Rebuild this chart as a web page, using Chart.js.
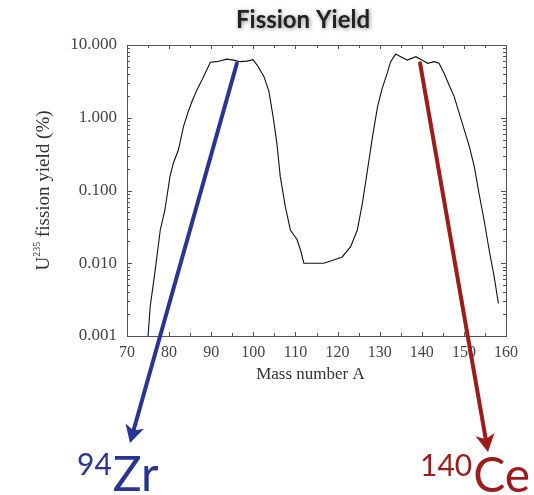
<!DOCTYPE html>
<html>
<head>
<meta charset="utf-8">
<script src="https://cdn.jsdelivr.net/npm/chart.js@4/dist/chart.umd.min.js"></script>
<style>
  html, body { margin: 0; padding: 0; background: #fff; }
  #wrap { width: 534px; height: 495px; }
</style>
</head>
<body>
<div id="wrap"><canvas id="yieldChart" width="534" height="495"></canvas></div>
<script>
// mass number A and U-235 fission yield (%)
const massNumbers = [75, 75.5, 76.7, 77.9, 79.0, 80.2, 81.0, 82.2, 83.4, 84.4, 85.4, 86.6, 87.8, 89.8, 91.3, 93.7, 95.3, 96.9, 98.5, 99.9,
    100.9, 102.5, 103.7, 104.7, 105.6, 106.4, 107.6, 108.8, 110.4, 111.2, 112.0, 116.7, 119.1, 121.1, 123.1, 124.7, 125.9, 127.1, 128.3, 129.5,
    130.6, 131.8, 132.6, 133.8, 135.0, 136.6, 138.6, 139.8, 141.4, 142.9, 144.1, 145.3, 146.5, 147.7, 148.9, 150.1, 151.3, 152.5, 153.6, 154.8,
    156.0, 157.2, 158.2];
const yields = [0.001, 0.0025, 0.0081, 0.0286, 0.054, 0.155, 0.237, 0.36, 0.75, 1.15, 1.66, 2.4, 3.3, 5.8, 5.9, 6.4, 6.2, 5.9, 6.0, 6.3,
    5.3, 3.7, 2.3, 1.03, 0.44, 0.155, 0.06, 0.0286, 0.021, 0.0152, 0.010, 0.010, 0.0111, 0.0122, 0.0169, 0.0286, 0.067, 0.19, 0.55, 1.42,
    2.54, 4.1, 5.9, 7.5, 6.9, 6.2, 6.9, 6.3, 5.6, 5.9, 5.6, 4.1, 2.8, 1.95, 1.15, 0.68, 0.40, 0.21, 0.091, 0.039,
    0.0152, 0.0065, 0.0028];
const yTicks = [0.001, 0.01, 0.1, 1, 10];
const xTickStep = 10;

// highlighted nuclides: where the arrow leaves the curve (A, yield)
const nuclides = [
    { mass: '94', sym: 'Zr', fromA: 96.1, fromY: 5.6, color: '#283593' },
    { mass: '140', sym: 'Ce', fromA: 139.6, fromY: 5.6, color: '#9c1c1c' }
];

const axisColor = '#555';
const serif = '"Liberation Serif", "DejaVu Serif", serif';
const sans = 'Lato, "Open Sans", sans-serif';

function drawArrow(ctx, x1, y1, x2, y2, color) {
    const ang = Math.atan2(y2 - y1, x2 - x1);
    const head = 20, back = 13;
    ctx.save();
    ctx.strokeStyle = color;
    ctx.fillStyle = color;
    ctx.lineWidth = 4;
    ctx.lineCap = 'round';
    ctx.beginPath();
    ctx.moveTo(x1, y1);
    ctx.lineTo(x2 - back * Math.cos(ang), y2 - back * Math.sin(ang));
    ctx.stroke();
    ctx.beginPath();
    ctx.moveTo(x2, y2);
    ctx.lineTo(x2 - head * Math.cos(ang - 0.5), y2 - head * Math.sin(ang - 0.5));
    ctx.lineTo(x2 - back * Math.cos(ang), y2 - back * Math.sin(ang));
    ctx.lineTo(x2 - head * Math.cos(ang + 0.5), y2 - head * Math.sin(ang + 0.5));
    ctx.closePath();
    ctx.fill();
    ctx.restore();
}

const decorPlugin = {
    id: 'decor',
    afterDatasetsDraw(chart) {
        const { ctx, chartArea: a, scales: { x, y } } = chart;
        ctx.save();
        // frame
        ctx.strokeStyle = axisColor;
        ctx.lineWidth = 1;
        ctx.strokeRect(a.left + 0.5, a.top + 0.5, a.right - a.left, a.bottom - a.top);
        // inward ticks, x every 5
        ctx.beginPath();
        for (let v = x.min; v <= x.max; v += 5) {
            const px = Math.round(x.getPixelForValue(v)) + 0.5;
            const len = v % 10 === 0 ? 4 : 3;
            ctx.moveTo(px, a.bottom); ctx.lineTo(px, a.bottom - len);
            ctx.moveTo(px, a.top); ctx.lineTo(px, a.top + len);
        }
        // inward ticks, log y
        for (let d = 0; d < yTicks.length; d++) {
            for (let m = 1; m <= 9; m++) {
                const v = yTicks[d] * m;
                if (v > y.max) break;
                const py = Math.round(y.getPixelForValue(v)) + 0.5;
                const len = m === 1 ? 5 : 3;
                ctx.moveTo(a.left, py); ctx.lineTo(a.left + len, py);
                ctx.moveTo(a.right, py); ctx.lineTo(a.right - len, py);
            }
        }
        ctx.stroke();

        // axis titles
        ctx.fillStyle = '#333';
        ctx.font = '17px ' + serif;
        ctx.textAlign = 'center';
        ctx.textBaseline = 'middle';
        ctx.fillText('Mass number A', (a.left + a.right) / 2 - 6, 375);

        ctx.save();
        ctx.translate(42, (a.top + a.bottom) / 2);
        ctx.rotate(-Math.PI / 2);
        ctx.textAlign = 'left';
        ctx.textBaseline = 'alphabetic';
        const big = '19px ' + serif, small = '10px ' + serif;
        ctx.font = big;
        const wU = ctx.measureText('U').width;
        const rest = ' fission yield (%)';
        const wR = ctx.measureText(rest).width;
        ctx.font = small;
        const wS = ctx.measureText('235').width;
        let cx = -(wU + wS + wR) / 2;
        ctx.font = big; ctx.fillText('U', cx, 7); cx += wU;
        ctx.font = small; ctx.fillText('235', cx, -2); cx += wS;
        ctx.font = big; ctx.fillText(rest, cx, 7);
        ctx.restore();

        // title with soft shadow
        ctx.save();
        ctx.font = 'bold 24px ' + sans;
        ctx.fillStyle = '#222';
        ctx.shadowColor = 'rgba(0,0,0,0.45)';
        ctx.shadowBlur = 4;
        ctx.shadowOffsetX = 1;
        ctx.shadowOffsetY = 1;
        ctx.textAlign = 'center';
        ctx.textBaseline = 'middle';
        ctx.fillText('Fission Yield', 303, 20);
        ctx.restore();

        // arrows and nuclide labels
        const tips = [[130, 443], [488, 452]];
        const labelPos = [[77, 491], [420, 492]];
        nuclides.forEach((n, i) => {
            drawArrow(ctx, x.getPixelForValue(n.fromA), y.getPixelForValue(n.fromY), tips[i][0], tips[i][1], n.color);
            ctx.fillStyle = n.color;
            ctx.textAlign = 'left';
            ctx.textBaseline = 'alphabetic';
            ctx.font = '30px ' + sans;
            const wm = ctx.measureText(n.mass).width;
            ctx.fillText(n.mass, labelPos[i][0], labelPos[i][1] - 16);
            ctx.font = '48px ' + sans;
            ctx.fillText(n.sym, labelPos[i][0] + wm + 1, labelPos[i][1]);
        });
        ctx.restore();
    }
};

new Chart(document.getElementById('yieldChart'), {
    type: 'line',
    data: {
        datasets: [{
            data: massNumbers.map((a, i) => ({ x: a, y: yields[i] })),
            borderColor: '#111',
            borderWidth: 1.1,
            pointRadius: 0,
            tension: 0,
            fill: false
        }]
    },
    options: {
        responsive: false,
        animation: false,
        layout: { padding: { top: 45, right: 28, bottom: 0, left: 0 } },
        plugins: { legend: { display: false }, tooltip: { enabled: false }, title: { display: false } },
        scales: {
            x: {
                type: 'linear',
                min: 70, max: 160,
                ticks: { stepSize: xTickStep, padding: 7, color: '#444', font: { family: serif, size: 16 } },
                grid: { display: false, drawTicks: false },
                border: { color: axisColor },
                afterFit: s => { s.height = 159; }
            },
            y: {
                type: 'logarithmic',
                min: 0.001, max: 10,
                afterBuildTicks: s => { s.ticks = yTicks.map(v => ({ value: v })); },
                ticks: { padding: 10, color: '#444', font: { family: serif, size: 17 }, callback: v => Number(v).toFixed(3) },
                grid: { display: false, drawTicks: false },
                border: { color: axisColor },
                afterFit: s => { s.width = 127; }
            }
        }
    },
    plugins: [decorPlugin]
});
</script>
</body>
</html>
